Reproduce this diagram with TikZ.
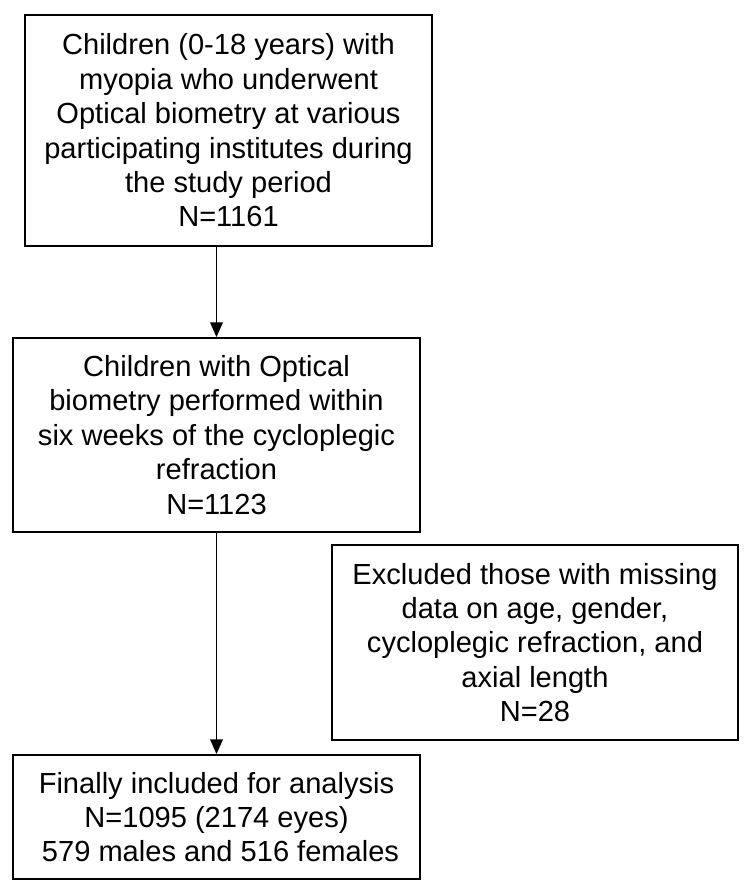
\documentclass[tikz,border=0pt]{standalone}
\usepackage{fontspec}
\setmainfont{Liberation Sans}
\usetikzlibrary{arrows.meta}

\begin{document}
\begin{tikzpicture}[x=0.75pt,y=-0.75pt,
 flowbox/.style={draw=black,line width=1.4pt,align=center,inner sep=0pt,minimum width=305.25pt,font=\fontsize{21.8}{25.8}\selectfont},
 flowarrow/.style={-{Triangle[length=11pt,width=9.5pt]},line width=1pt,draw=black}
]
\useasboundingbox (0,0) rectangle (750,893);
\node[flowbox,minimum height=173.25pt] (cohort) at (228.5,130.5)
  {Children (0-18 years) with\\myopia who underwent\\Optical biometry at various\\participating institutes during\\the study period\\N=1161};
\node[flowbox,minimum height=145.5pt] (biometry) at (216.5,435)
  {Children with Optical\\biometry performed within\\six weeks of the cycloplegic\\refraction\\N=1123};
\node[flowbox,minimum width=304.5pt,minimum height=146.25pt] (excluded) at (535,642.5)
  {Excluded those with missing\\data on age, gender,\\cycloplegic refraction, and\\axial length\\N=28};
\node[flowbox,minimum height=93pt] (final) at (216.5,817)
  {Finally included for analysis\\N=1095 (2174 eyes)\\\ 579 males and 516 females};
\draw[flowarrow] (cohort.south -| biometry.north)--(biometry.north);
\draw[flowarrow] (biometry.south)--(final.north);
\end{tikzpicture}
\end{document}
